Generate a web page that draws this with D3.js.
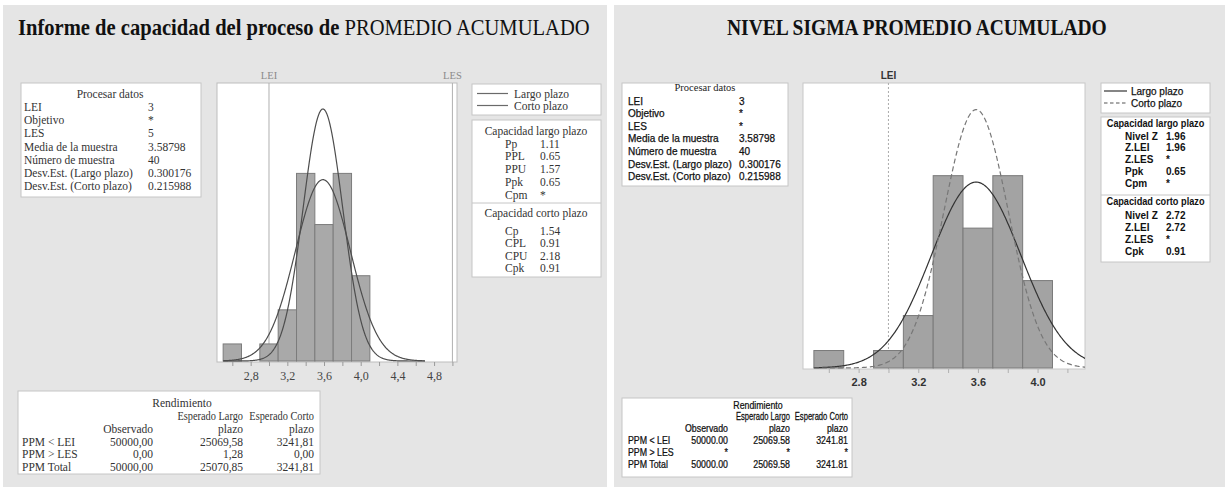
<!DOCTYPE html>
<html>
<head>
<meta charset="utf-8">
<script src="https://cdn.jsdelivr.net/npm/d3@7"></script>
<style>
  html, body { margin: 0; padding: 0; background: #ffffff; }
  svg { display: block; }
</style>
</head>
<body>
<svg id="chart" width="1225" height="487"></svg>
<script>
// ---- Histogram of the accumulated average (bin lower edges, counts) ----
const binStarts = [2.5, 2.7, 2.9, 3.1, 3.3, 3.5, 3.7, 3.9];
const binCounts = [1, 0, 1, 3, 11, 8, 11, 5];
const binWidth = 0.2;

// ---- Process data ----
const lei = 3;
const les = 5;
const sampleMean = 3.58798;
const sampleN = 40;
const sdLong = 0.300176;
const sdShort = 0.215988;

const dataLabels = ["LEI", "Objetivo", "LES", "Media de la muestra", "Número de muestra",
  "Desv.Est. (Largo plazo)", "Desv.Est. (Corto plazo)"];
const dataValuesLeft = ["3", "*", "5", "3.58798", "40", "0.300176", "0.215988"];
const dataValuesRight = ["3", "*", "*", "3.58798", "40", "0.300176", "0.215988"];

// ---- Capability indices ----
const longLabelsLeft = ["Pp", "PPL", "PPU", "Ppk", "Cpm"];
const longValuesLeft = ["1.11", "0.65", "1.57", "0.65", "*"];
const shortLabelsLeft = ["Cp", "CPL", "CPU", "Cpk"];
const shortValuesLeft = ["1.54", "0.91", "2.18", "0.91"];

const longLabelsRight = ["Nivel Z", "Z.LEI", "Z.LES", "Ppk", "Cpm"];
const longValuesRight = ["1.96", "1.96", "*", "0.65", "*"];
const shortLabelsRight = ["Nivel Z", "Z.LEI", "Z.LES", "Cpk"];
const shortValuesRight = ["2.72", "2.72", "*", "0.91"];

// ---- Performance (PPM) ----
const ppmRows = ["PPM < LEI", "PPM > LES", "PPM Total"];
const ppmObservedLeft = ["50000,00", "0,00", "50000,00"];
const ppmLongLeft = ["25069,58", "1,28", "25070,85"];
const ppmShortLeft = ["3241,81", "0,00", "3241,81"];
const ppmObservedRight = ["50000.00", "*", "50000.00"];
const ppmLongRight = ["25069.58", "*", "25069.58"];
const ppmShortRight = ["3241.81", "*", "3241.81"];

// ---- Axis ticks ----
const tickValuesLeft = [2.6, 2.8, 3.0, 3.2, 3.4, 3.6, 3.8, 4.0, 4.2, 4.4, 4.6, 4.8, 5.0];
const tickLabelValuesLeft = [2.8, 3.2, 3.6, 4.0, 4.4, 4.8];
const tickLabelsLeft = ["2,8", "3,2", "3,6", "4,0", "4,4", "4,8"];
const tickValuesRight = [2.6, 2.8, 3.0, 3.2, 3.4, 3.6, 3.8, 4.0, 4.2];
const tickLabelValuesRight = [2.8, 3.2, 3.6, 4.0];
const tickLabelsRight = ["2.8", "3.2", "3.6", "4.0"];

const SERIF = '"Liberation Serif", "DejaVu Serif", serif';
const SANS = '"Liberation Sans", "DejaVu Sans", sans-serif';
const PANEL_BG = "#e5e5e5";
const BOX_STROKE = "#c6c6c6";

const svg = d3.select("#chart");

// text helper; sx squeezes the glyphs horizontally around the anchor,
// halo thickens a regular face slightly (medium weight look)
function label(g, x, y, s, o = {}) {
  const t = g.append("text")
    .attr("text-anchor", o.anchor || "start")
    .style("font-family", o.family || SERIF)
    .style("font-size", (o.size || 12) + "px")
    .style("font-weight", o.weight || "normal")
    .attr("fill", o.color || "#333")
    .text(s);
  if (o.halo) {
    t.attr("stroke", o.color || "#333").attr("stroke-width", o.halo);
  }
  if (o.sx && o.sx !== 1) {
    t.attr("transform", `translate(${x},${y}) scale(${o.sx},1)`);
  } else {
    t.attr("x", x).attr("y", y);
  }
  return t;
}

// squeeze a text element horizontally to a given width
function fitWidth(sel, x, y, target) {
  const w = sel.node().getComputedTextLength();
  sel.attr("x", 0).attr("y", 0)
    .attr("transform", `translate(${x},${y}) scale(${target / w},1)`);
}

function box(g, x, y, w, h) {
  return g.append("rect").attr("x", x).attr("y", y).attr("width", w).attr("height", h)
    .attr("fill", "#fff").attr("stroke", BOX_STROKE).attr("stroke-width", 1);
}

// normal density scaled to histogram counts
function fitted(sd) {
  return v => sampleN * binWidth * Math.exp(-0.5 * ((v - sampleMean) / sd) ** 2) / (sd * Math.sqrt(2 * Math.PI));
}

function histogram(g, cfg) {
  const { x0, y0, w, h, domain, yMax } = cfg;
  const x = d3.scaleLinear().domain(domain).range([x0, x0 + w]);
  const y = d3.scaleLinear().domain([0, yMax]).range([y0 + h - 1, y0]);

  g.append("rect").attr("x", x0).attr("y", y0).attr("width", w).attr("height", h)
    .attr("fill", "#fff").attr("stroke", cfg.frameColor).attr("stroke-width", 1);

  const clipId = cfg.id + "-clip";
  g.append("clipPath").attr("id", clipId)
    .append("rect").attr("x", x0).attr("y", y0).attr("width", w).attr("height", h);

  const plot = g.append("g").attr("clip-path", `url(#${clipId})`);

  // specification limit lines
  cfg.limits.forEach(lim => {
    plot.append("line")
      .attr("x1", x(lim.value)).attr("x2", x(lim.value))
      .attr("y1", y0).attr("y2", y0 + h)
      .attr("stroke", lim.color).attr("stroke-width", 1)
      .attr("stroke-dasharray", lim.dash || null);
  });

  // bars
  const bins = binStarts.map((s, i) => ({ s, c: binCounts[i] })).filter(d => d.c > 0);
  plot.selectAll("rect.bar").data(bins).join("rect")
    .attr("class", "bar")
    .attr("x", d => x(d.s))
    .attr("width", d => x(d.s + binWidth) - x(d.s))
    .attr("y", d => y(d.c))
    .attr("height", d => y(0) - y(d.c))
    .attr("fill", cfg.barFill).attr("stroke", cfg.barStroke).attr("stroke-width", 1);

  // fitted curves
  const grid = d3.range(cfg.curveFrom, cfg.curveTo + 1e-9, 0.005);
  cfg.curves.forEach(c => {
    const f = fitted(c.sd);
    plot.append("path")
      .datum(grid)
      .attr("d", d3.line().x(v => x(v)).y(v => y(f(v))))
      .attr("fill", "none").attr("stroke", c.color).attr("stroke-width", c.width)
      .attr("stroke-dasharray", c.dash || null);
  });

  // x axis
  const labelMap = new Map(cfg.tickLabelValues.map((v, i) => [v.toFixed(1), cfg.tickLabels[i]]));
  const ax = g.append("g").attr("transform", `translate(0,${y0 + h})`)
    .call(d3.axisBottom(x).tickValues(cfg.tickValues).tickSize(4).tickSizeOuter(0)
      .tickFormat(v => labelMap.get(v.toFixed(1)) || ""));
  ax.select(".domain").remove();
  ax.selectAll(".tick line").attr("stroke", cfg.tickColor);
  ax.selectAll(".tick text")
    .attr("y", cfg.labelDy)
    .style("font-family", cfg.tickFamily).style("font-size", cfg.tickSize + "px")
    .style("font-weight", cfg.tickWeight).attr("fill", cfg.tickTextColor);

  // limit labels above the frame
  cfg.limits.forEach(lim => {
    label(g, x(lim.value), y0 - 4, lim.name, {
      anchor: "middle", family: cfg.limFamily, size: cfg.limSize,
      weight: cfg.limWeight, color: cfg.limColor
    });
  });
  return { x, y };
}

// ---------- panels ----------
svg.append("rect").attr("x", 3).attr("y", 5).attr("width", 604).attr("height", 482).attr("fill", PANEL_BG);
svg.append("rect").attr("x", 614).attr("y", 5).attr("width", 611).attr("height", 482).attr("fill", PANEL_BG);

// ================= LEFT: capability report =================
const L = svg.append("g");

const t1 = L.append("text")
  .style("font-family", SERIF).style("font-size", "24px").attr("fill", "#111");
t1.append("tspan").style("font-weight", "bold").text("Informe de capacidad del proceso de ");
t1.append("tspan").text("PROMEDIO ACUMULADO");
fitWidth(t1, 18, 34.5, 572);

const LS = 11.5; // body text size, left panel

// process data box
box(L, 21, 83, 180, 114);
label(L, 110, 98, "Procesar datos", { anchor: "middle", size: LS });
dataLabels.forEach((s, i) => {
  label(L, 24, 111 + i * 13.2, s, { size: LS });
  label(L, 148, 111 + i * 13.2, dataValuesLeft[i], { size: LS });
});

// histogram
histogram(L, {
  id: "left", x0: 217, y0: 83, w: 240, h: 279, domain: [2.433, 5.05], yMax: 16.3,
  frameColor: "#bdbdbd", barFill: "#a9a9a9", barStroke: "#7c7c7c",
  curveFrom: 2.5, curveTo: 4.7,
  curves: [{ sd: sdLong, color: "#4d4d4d", width: 1.2 }, { sd: sdShort, color: "#4d4d4d", width: 1.2 }],
  limits: [{ name: "LEI", value: lei, color: "#b0b0b0" }, { name: "LES", value: les, color: "#b0b0b0" }],
  limFamily: SERIF, limSize: 10.5, limWeight: "normal", limColor: "#8a8a8a",
  tickValues: tickValuesLeft, tickLabelValues: tickLabelValuesLeft, tickLabels: tickLabelsLeft,
  tickColor: "#9a9a9a", tickFamily: SERIF, tickSize: 12, tickWeight: "normal",
  tickTextColor: "#444", labelDy: 9
});

// legend
box(L, 472, 84, 129, 31);
[["Largo plazo", 93.5], ["Corto plazo", 105.5]].forEach(([s, yy]) => {
  L.append("line").attr("x1", 477).attr("x2", 508).attr("y1", yy).attr("y2", yy)
    .attr("stroke", "#6a6a6a").attr("stroke-width", 1.2);
  label(L, 514, yy + 4, s, { size: LS });
});

// capability box
box(L, 472, 120, 129, 157);
L.append("line").attr("x1", 472).attr("x2", 601).attr("y1", 203).attr("y2", 203).attr("stroke", BOX_STROKE);
label(L, 536, 134.5, "Capacidad largo plazo", { anchor: "middle", size: LS });
longLabelsLeft.forEach((s, i) => {
  label(L, 505, 147.5 + i * 12.8, s, { size: LS });
  label(L, 540, 147.5 + i * 12.8, longValuesLeft[i], { size: LS });
});
label(L, 536, 217, "Capacidad corto plazo", { anchor: "middle", size: LS });
shortLabelsLeft.forEach((s, i) => {
  label(L, 505, 235 + i * 12.4, s, { size: LS });
  label(L, 540, 235 + i * 12.4, shortValuesLeft[i], { size: LS });
});

// performance box
box(L, 18, 391, 302, 83);
label(L, 182, 407, "Rendimiento", { anchor: "middle", size: LS });
label(L, 243, 420, "Esperado Largo", { anchor: "end", size: LS, sx: 0.9 });
label(L, 314, 420, "Esperado Corto", { anchor: "end", size: LS, sx: 0.9 });
label(L, 153, 433, "Observado", { anchor: "end", size: LS });
label(L, 243, 433, "plazo", { anchor: "end", size: LS });
label(L, 314, 433, "plazo", { anchor: "end", size: LS });
ppmRows.forEach((s, i) => {
  const yy = 445.5 + i * 12.6;
  label(L, 22, yy, s, { size: LS });
  label(L, 153, yy, ppmObservedLeft[i], { anchor: "end", size: LS });
  label(L, 243, yy, ppmLongLeft[i], { anchor: "end", size: LS });
  label(L, 314, yy, ppmShortLeft[i], { anchor: "end", size: LS });
});

// ================= RIGHT: sigma level =================
const R = svg.append("g");
const RS = 10;          // body text size, right panel
const ink = "#111";
const MED = 0.25;       // stroke that gives the regular face a medium weight

const t2 = label(R, 0, 0, "NIVEL SIGMA PROMEDIO ACUMULADO", {
  size: 24, weight: "bold", color: ink
});
fitWidth(t2, 727, 35, 380);

// process data box
box(R, 622, 83, 166, 103);
label(R, 705, 91, "Procesar datos", { anchor: "middle", size: 10.5, family: SERIF, color: "#222" });
dataLabels.forEach((s, i) => {
  label(R, 628, 104.5 + i * 12.6, s, { family: SANS, size: RS, color: ink, halo: MED });
  label(R, 739, 104.5 + i * 12.6, dataValuesRight[i], { family: SANS, size: RS, color: ink, halo: MED });
});

// histogram
histogram(R, {
  id: "right", x0: 803, y0: 83, w: 282, h: 286, domain: [2.427, 4.318], yMax: 16.3,
  frameColor: "#c8c8c8", barFill: "#a3a3a3", barStroke: "#7a7a7a",
  curveFrom: 2.5, curveTo: 4.4,
  curves: [{ sd: sdLong, color: "#333", width: 1.2 }, { sd: sdShort, color: "#777", width: 1.2, dash: "5,3" }],
  limits: [{ name: "LEI", value: lei, color: "#aaa", dash: "2,2" }],
  limFamily: SANS, limSize: 10, limWeight: "bold", limColor: "#333",
  tickValues: tickValuesRight, tickLabelValues: tickLabelValuesRight, tickLabels: tickLabelsRight,
  tickColor: "#b0b0b0", tickFamily: SANS, tickSize: 11, tickWeight: "bold",
  tickTextColor: "#333", labelDy: 9
});

// legend
box(R, 1101, 83, 109, 30);
R.append("line").attr("x1", 1104).attr("x2", 1127).attr("y1", 91).attr("y2", 91)
  .attr("stroke", "#333").attr("stroke-width", 1.2);
label(R, 1131, 94.5, "Largo plazo", { family: SANS, size: RS, color: ink, halo: MED });
R.append("line").attr("x1", 1104).attr("x2", 1127).attr("y1", 103).attr("y2", 103)
  .attr("stroke", "#555").attr("stroke-width", 1.2).attr("stroke-dasharray", "3.5,2.5");
label(R, 1131, 106.5, "Corto plazo", { family: SANS, size: RS, color: ink, halo: MED });

// capability box
box(R, 1101, 117, 109, 145);
R.append("line").attr("x1", 1101).attr("x2", 1210).attr("y1", 195).attr("y2", 195).attr("stroke", BOX_STROKE);
label(R, 1155.5, 127, "Capacidad largo plazo", { anchor: "middle", family: SANS, size: RS, weight: "bold", color: ink, sx: 0.92 });
longLabelsRight.forEach((s, i) => {
  label(R, 1125, 139.5 + i * 11.8, s, { family: SANS, size: RS, weight: "bold", color: ink });
  label(R, 1166, 139.5 + i * 11.8, longValuesRight[i], { family: SANS, size: RS, weight: "bold", color: ink });
});
label(R, 1155.5, 205, "Capacidad corto plazo", { anchor: "middle", family: SANS, size: RS, weight: "bold", color: ink, sx: 0.92 });
shortLabelsRight.forEach((s, i) => {
  label(R, 1125, 219 + i * 12, s, { family: SANS, size: RS, weight: "bold", color: ink });
  label(R, 1166, 219 + i * 12, shortValuesRight[i], { family: SANS, size: RS, weight: "bold", color: ink });
});

// performance box
const PS = 0.88; // squeeze for the performance table
box(R, 622, 398, 230, 79);
label(R, 758, 409, "Rendimiento", { anchor: "middle", family: SANS, size: RS, color: ink, sx: PS, halo: MED });
label(R, 790, 420, "Esperado Largo", { anchor: "end", family: SANS, size: RS, color: ink, sx: 0.76, halo: MED });
label(R, 848, 420, "Esperado Corto", { anchor: "end", family: SANS, size: RS, color: ink, sx: 0.76, halo: MED });
label(R, 728, 432, "Observado", { anchor: "end", family: SANS, size: RS, color: ink, sx: PS, halo: MED });
label(R, 790, 432, "plazo", { anchor: "end", family: SANS, size: RS, color: ink, sx: PS, halo: MED });
label(R, 848, 432, "plazo", { anchor: "end", family: SANS, size: RS, color: ink, sx: PS, halo: MED });
ppmRows.forEach((s, i) => {
  const yy = 444 + i * 12;
  label(R, 628, yy, s, { family: SANS, size: RS, color: ink, sx: PS, halo: MED });
  label(R, 728, yy, ppmObservedRight[i], { anchor: "end", family: SANS, size: RS, color: ink, sx: PS, halo: MED });
  label(R, 790, yy, ppmLongRight[i], { anchor: "end", family: SANS, size: RS, color: ink, sx: PS, halo: MED });
  label(R, 848, yy, ppmShortRight[i], { anchor: "end", family: SANS, size: RS, color: ink, sx: PS, halo: MED });
});
</script>
</body>
</html>
